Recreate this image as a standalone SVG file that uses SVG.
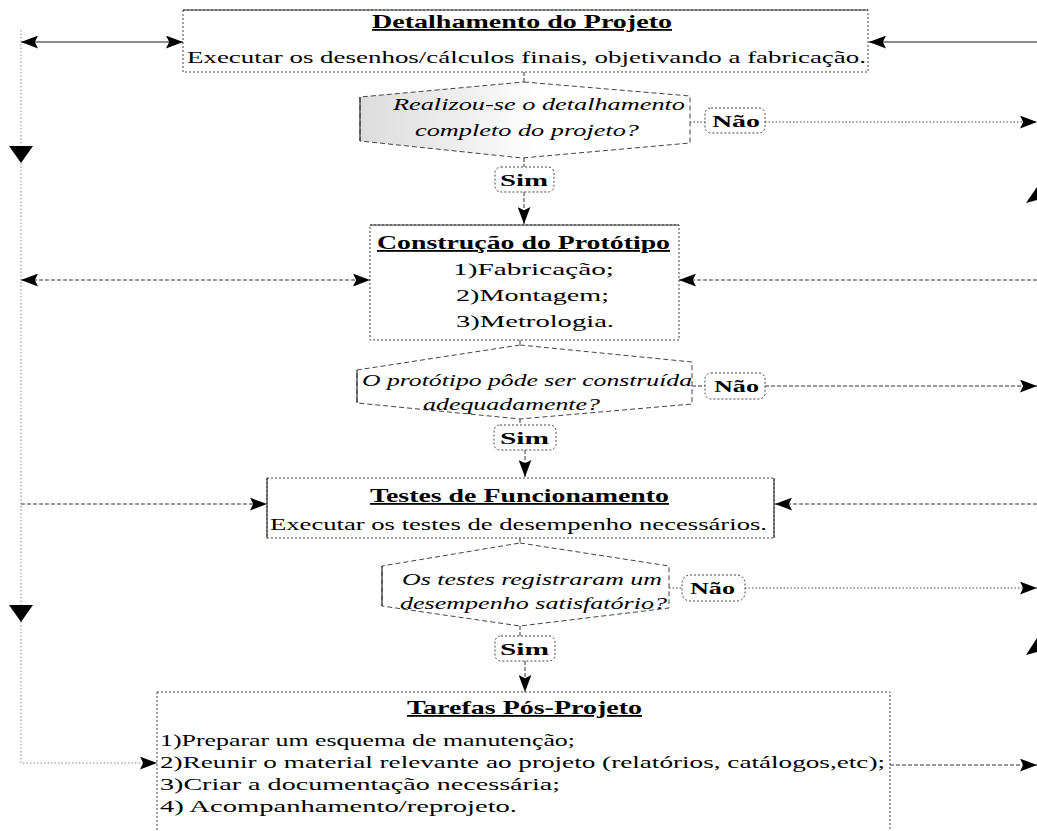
<svg xmlns="http://www.w3.org/2000/svg" width="1037" height="831" viewBox="0 0 1037 831">
<defs>
<style>
.t{font-family:"Liberation Serif","Times New Roman",serif;fill:#000}
.ti{font-size:18px;font-weight:bold;text-decoration:underline}
.b{font-size:17px}
.q{font-size:17px;font-style:italic}
.l{font-size:16px;font-weight:bold}
.box{fill:#fff;stroke:#444;stroke-width:1;stroke-dasharray:2,2}
.sol{stroke:#333;stroke-width:1.2;fill:none}
.hex{stroke:#444;stroke-width:1;stroke-dasharray:5,3}
.lab{fill:#fff;stroke:#444;stroke-width:1;stroke-dasharray:2,2}
.cs{stroke:#666;stroke-width:1.3;fill:none}
.cd{stroke:#333;stroke-width:1;stroke-dasharray:4,2;fill:none}
.cdot{stroke:#444;stroke-width:1;stroke-dasharray:1.5,2;fill:none}
.cg{stroke:#888;stroke-width:1;stroke-dasharray:1.5,2;fill:none}
</style>
<marker id="ah" viewBox="0 0 16 12" refX="16" refY="6" markerWidth="17" markerHeight="13" markerUnits="userSpaceOnUse" orient="auto-start-reverse">
<path d="M0,0 L16,6 L0,12 L3,6 z" fill="#000"/>
</marker>
<linearGradient id="g1" x1="0" y1="0" x2="1" y2="0">
<stop offset="0" stop-color="#dcdcdc"/>
<stop offset="0.4" stop-color="#f4f4f4"/>
<stop offset="0.55" stop-color="#fff"/>
</linearGradient>
</defs>

<g id="connectors">
<line class="cs" x1="21" y1="42" x2="183" y2="42" marker-start="url(#ah)" marker-end="url(#ah)"/>
<line class="cs" x1="1037" y1="42" x2="869" y2="42" marker-end="url(#ah)"/>
<line class="cd" x1="524" y1="72" x2="524" y2="82"/>
<line class="cdot" x1="690" y1="122" x2="705" y2="122"/>
<line class="cdot" x1="765" y1="122" x2="1037" y2="122" marker-end="url(#ah)"/>
<line class="cd" x1="524" y1="158" x2="524" y2="167"/>
<line class="cd" x1="524" y1="192" x2="524" y2="224" marker-end="url(#ah)"/>
<line class="cd" x1="21" y1="280" x2="370" y2="280" marker-start="url(#ah)" marker-end="url(#ah)"/>
<line class="cd" x1="1037" y1="280" x2="679" y2="280" marker-end="url(#ah)"/>
<line class="cd" x1="520" y1="340" x2="520" y2="345"/>
<line class="cd" x1="692" y1="386" x2="705" y2="386"/>
<line class="cd" x1="765" y1="386" x2="1037" y2="386" marker-end="url(#ah)"/>
<line class="cd" x1="520" y1="419" x2="520" y2="425"/>
<line class="cd" x1="525" y1="450" x2="525" y2="477" marker-end="url(#ah)"/>
<line class="cd" x1="21" y1="504" x2="267" y2="504" marker-end="url(#ah)"/>
<line class="cd" x1="1037" y1="504" x2="775" y2="504" marker-end="url(#ah)"/>
<line class="cd" x1="520" y1="538" x2="520" y2="543"/>
<line class="cdot" x1="669" y1="588" x2="682" y2="588"/>
<line class="cdot" x1="745" y1="588" x2="1037" y2="588" marker-end="url(#ah)"/>
<line class="cd" x1="520" y1="626" x2="520" y2="636"/>
<line class="cd" x1="525" y1="661" x2="525" y2="692" marker-end="url(#ah)"/>
<path class="cg" d="M21,30 V763 H157" marker-end="url(#ah)"/>
<polygon points="9,146 33,146 21,163" fill="#000"/>
<polygon points="9,605 33,605 21,622" fill="#000"/>
<line class="cd" x1="890" y1="765" x2="1037" y2="765" marker-end="url(#ah)"/>
<polygon points="1037,187 1026,203 1037,200" fill="#000"/>
<polygon points="1037,638 1026,655 1037,652" fill="#000"/>
</g>

<g id="n1">
<rect class="box" x="183" y="10" width="685" height="62"/>
<line class="sol" x1="183" y1="10" x2="868" y2="10"/>
<text class="t ti" x="372" y="28" textLength="300" lengthAdjust="spacingAndGlyphs">Detalhamento do Projeto</text>
<text class="t b" x="187" y="63" textLength="679" lengthAdjust="spacingAndGlyphs">Executar os desenhos/cálculos finais, objetivando a fabricação.</text>
</g>

<g id="d1">
<polygon class="hex" points="524,82 690,96 690,143 522,158 360,141 360,97" fill="url(#g1)"/>
<line class="sol" x1="360" y1="97" x2="360" y2="141"/>
<text class="t q" x="393" y="110" textLength="292" lengthAdjust="spacingAndGlyphs">Realizou-se o detalhamento</text>
<text class="t q" x="415" y="136" textLength="224" lengthAdjust="spacingAndGlyphs">completo do projeto?</text>
</g>
<g id="nao1">
<rect class="lab" x="705" y="108" width="60" height="25" rx="6"/>
<text class="t l" x="712" y="127" textLength="48" lengthAdjust="spacingAndGlyphs">Não</text>
</g>
<g id="sim1">
<rect class="lab" x="495" y="167" width="59" height="25" rx="6"/>
<text class="t l" x="500" y="186" textLength="48" lengthAdjust="spacingAndGlyphs">Sim</text>
</g>

<g id="n2">
<rect class="box" x="370" y="225" width="309" height="115"/>
<line class="sol" x1="370" y1="225" x2="679" y2="225"/>
<text class="t ti" x="377" y="249" textLength="293" lengthAdjust="spacingAndGlyphs">Construção do Protótipo</text>
<text class="t b" x="453" y="275" textLength="161" lengthAdjust="spacingAndGlyphs">1)Fabricação;</text>
<text class="t b" x="456" y="301" textLength="153" lengthAdjust="spacingAndGlyphs">2)Montagem;</text>
<text class="t b" x="456" y="327" textLength="158" lengthAdjust="spacingAndGlyphs">3)Metrologia.</text>
</g>

<g id="d2">
<polygon class="hex" points="520,345 692,362 692,404 520,419 357,403 357,370" fill="#fff"/>
<line class="sol" x1="357" y1="370" x2="357" y2="403"/>
<text class="t q" x="362" y="386" textLength="330" lengthAdjust="spacingAndGlyphs">O protótipo pôde ser construída</text>
<text class="t q" x="423" y="410" textLength="177" lengthAdjust="spacingAndGlyphs">adequadamente?</text>
</g>
<g id="nao2">
<rect class="lab" x="705" y="373" width="60" height="26" rx="6"/>
<text class="t l" x="714" y="392" textLength="45" lengthAdjust="spacingAndGlyphs">Não</text>
</g>
<g id="sim2">
<rect class="lab" x="494" y="425" width="62" height="25" rx="6"/>
<text class="t l" x="500" y="444" textLength="49" lengthAdjust="spacingAndGlyphs">Sim</text>
</g>

<g id="n3">
<rect class="box" x="267" y="478" width="507" height="60"/>
<line class="sol" x1="267" y1="478" x2="267" y2="538"/>
<line class="sol" x1="774" y1="478" x2="774" y2="538"/>
<text class="t ti" x="370" y="502" textLength="299" lengthAdjust="spacingAndGlyphs">Testes de Funcionamento</text>
<text class="t b" x="270" y="530" textLength="497" lengthAdjust="spacingAndGlyphs">Executar os testes de desempenho necessários.</text>
</g>

<g id="d3">
<polygon class="hex" points="520,543 669,566 669,608 520,626 382,606 382,566" fill="#fff"/>
<line class="sol" x1="382" y1="566" x2="382" y2="606"/>
<text class="t q" x="402" y="585" textLength="260" lengthAdjust="spacingAndGlyphs">Os testes registraram um</text>
<text class="t q" x="400" y="609" textLength="267" lengthAdjust="spacingAndGlyphs">desempenho satisfatório?</text>
</g>
<g id="nao3">
<rect class="lab" x="682" y="575" width="63" height="26" rx="8"/>
<text class="t l" x="690" y="594" textLength="45" lengthAdjust="spacingAndGlyphs">Não</text>
</g>
<g id="sim3">
<rect class="lab" x="495" y="636" width="60" height="25" rx="6"/>
<text class="t l" x="500" y="655" textLength="49" lengthAdjust="spacingAndGlyphs">Sim</text>
</g>

<g id="n4">
<rect class="box" x="157" y="692" width="733" height="150"/>
<text class="t ti" x="407" y="714" textLength="235" lengthAdjust="spacingAndGlyphs">Tarefas Pós-Projeto</text>
<text class="t b" x="160" y="746" textLength="415" lengthAdjust="spacingAndGlyphs">1)Preparar um esquema de manutenção;</text>
<text class="t b" x="160" y="768" textLength="725" lengthAdjust="spacingAndGlyphs">2)Reunir o material relevante ao projeto (relatórios, catálogos,etc);</text>
<text class="t b" x="160" y="790" textLength="400" lengthAdjust="spacingAndGlyphs">3)Criar a documentação necessária;</text>
<text class="t b" x="160" y="812" textLength="357" lengthAdjust="spacingAndGlyphs">4) Acompanhamento/reprojeto.</text>
</g>
</svg>
